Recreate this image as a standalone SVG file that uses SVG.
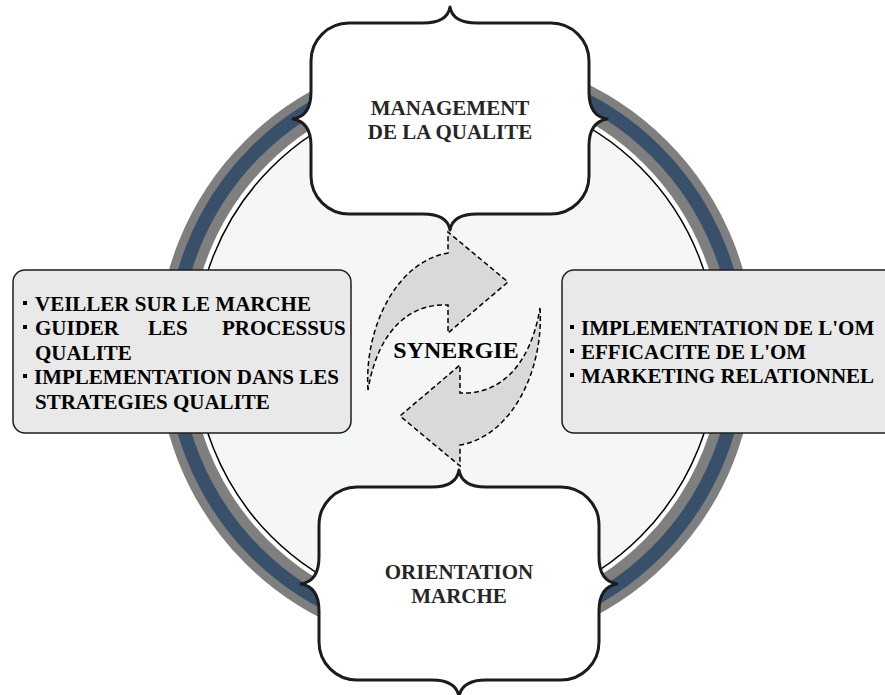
<svg xmlns="http://www.w3.org/2000/svg" width="885" height="695" viewBox="0 0 885 695">
<defs>
<style>
.ring-gray{fill:none;stroke:#7f7f7f;stroke-width:32.5}
.ring-navy{fill:none;stroke:#385069;stroke-width:13.5}
.disc{fill:#f5f7f7;stroke:#000;stroke-width:1.5}
.node{fill:#fff;stroke:#1c1c1c;stroke-width:3;stroke-linejoin:round}
.ntext{font-family:"Liberation Serif","Times New Roman",serif;font-weight:bold;font-size:21px;fill:#262626;text-anchor:middle}
.box{fill:#e9e9e9;stroke:#1c1c1c;stroke-width:1.5}
.btext{font-family:"Liberation Serif","Times New Roman",serif;font-weight:bold;font-size:21px;fill:#000}
.bullet{fill:#000}
.arrow{fill:#d9d9d9;stroke:#000;stroke-width:1.5;stroke-dasharray:5,3}
.syn{font-family:"Liberation Serif","Times New Roman",serif;font-weight:bold;font-size:24px;fill:#000;text-anchor:middle}
</style>
<rect id="b" width="4" height="4"/>
</defs>
<rect width="885" height="695" fill="#fff"/>
<g id="ring">
<circle class="ring-gray" cx="456" cy="352" r="282.25"/>
<circle class="ring-navy" cx="456" cy="352" r="283.25"/>
<circle class="disc" cx="456" cy="352" r="261"/>
</g>
<g id="connectors">
<path id="arrow-up" class="arrow" d="M 368,390 C 364,330 395,262 448,253 L 448,232 L 508,282 L 448,333 L 448,305 C 410,303 378,330 368,390 Z"/>
<path id="arrow-down" class="arrow" transform="rotate(180 454 349)" d="M 368,390 C 364,330 395,262 448,253 L 448,232 L 508,282 L 448,333 L 448,305 C 410,303 378,330 368,390 Z"/>
</g>
<g id="node-management">
<path class="node" d="M 349,23 H 423 C 437,23 448,19 450,7 C 452,19 463,23 477,23 H 551 A 38 38 0 0 1 589,61 V 92 C 589,108 595,117 607,119 C 595,121 589,130 589,146 V 176 A 38 38 0 0 1 551,214 H 477 C 463,214 452,218 450,230 C 448,218 437,214 423,214 H 349 A 38 38 0 0 1 311,176 V 146 C 311,130 305,121 293,119 C 305,117 311,108 311,92 V 61 A 38 38 0 0 1 349,23 Z"/>
<text class="ntext" x="450" y="115">MANAGEMENT</text>
<text class="ntext" x="450" y="139">DE LA QUALITE</text>
</g>
<g id="node-orientation">
<path class="node" d="M 357,487 H 432 C 446,487 457,483 459,470 C 461,483 472,487 486,487 H 561 A 38 38 0 0 1 599,525 V 557 C 599,573 605,582 617,584 C 605,586 599,595 599,611 V 642 A 38 38 0 0 1 561,680 H 486 C 472,680 461,684 459,697 C 457,684 446,680 432,680 H 357 A 38 38 0 0 1 319,642 V 611 C 319,595 313,586 301,584 C 313,582 319,573 319,557 V 525 A 38 38 0 0 1 357,487 Z"/>
<text class="ntext" x="459" y="579">ORIENTATION</text>
<text class="ntext" x="459" y="603">MARCHE</text>
</g>
<g id="box-left">
<rect class="box" x="13" y="270" width="338" height="163" rx="12"/>
<use href="#b" x="23" y="301"/>
<use href="#b" x="23" y="325"/>
<use href="#b" x="23" y="374"/>
<text class="btext" x="35" y="311">VEILLER SUR LE MARCHE</text>
<text class="btext" y="335"><tspan x="35">GUIDER</tspan><tspan x="148">LES</tspan><tspan x="222">PROCESSUS</tspan></text>
<text class="btext" x="35" y="360">QUALITE</text>
<text class="btext" x="34" y="384">IMPLEMENTATION DANS LES</text>
<text class="btext" x="35" y="409">STRATEGIES QUALITE</text>
</g>
<g id="box-right">
<rect class="box" x="562" y="270" width="340" height="163" rx="12"/>
<use href="#b" x="570" y="325"/>
<use href="#b" x="570" y="349"/>
<use href="#b" x="570" y="373"/>
<text class="btext" x="581" y="335">IMPLEMENTATION DE L'OM</text>
<text class="btext" x="581" y="359">EFFICACITE DE L'OM</text>
<text class="btext" x="581" y="383">MARKETING RELATIONNEL</text>
</g>
<g id="label-synergie">
<text class="syn" x="456" y="358">SYNERGIE</text>
</g>
</svg>
